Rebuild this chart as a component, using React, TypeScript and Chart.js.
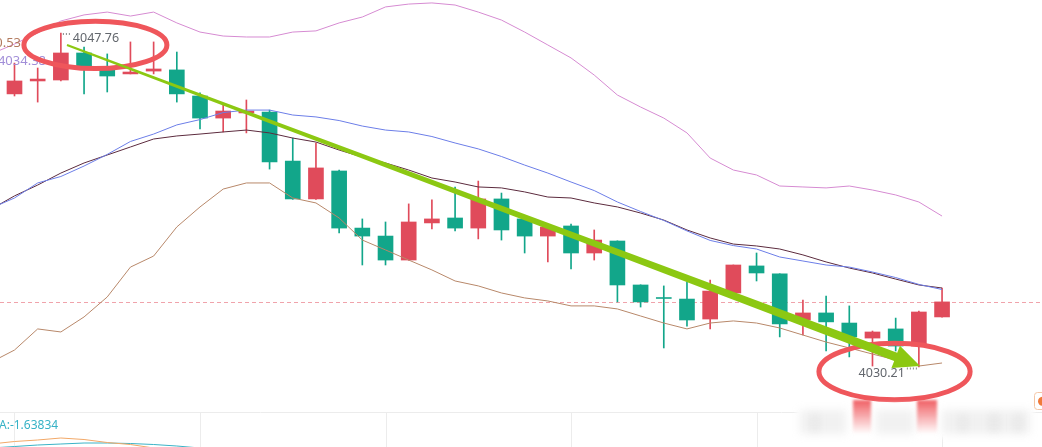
import React, { useEffect, useRef } from "react";
import { Chart, registerables } from "chart.js";

Chart.register(...registerables);

const W = 1042;
const H = 447;
const MAIN_H = 412;

// ---- candles (index 0..40) ----
const OPEN = [4044.56, 4045.24, 4045.29, 4046.71, 4045.82, 4045.61, 4045.76, 4045.82, 4044.45, 4043.29, 4043.56, 4043.61, 4041.03, 4039.04, 4040.51, 4037.51, 4037.09, 4035.83, 4037.78, 4038.04, 4037.51, 4039.04, 4037.99, 4037.09, 4037.62, 4036.2, 4036.83, 4034.52, 4033.86, 4033.78, 4032.73, 4034.1, 4035.52, 4035.1, 4032.68, 4033.05, 4032.52, 4031.73, 4032.21, 4031.31, 4032.84];
const HIGH = [4046.18, 4045.92, 4047.76, 4047.02, 4046.66, 4047.29, 4047.29, 4046.76, 4044.61, 4043.98, 4044.24, 4043.71, 4042.24, 4041.98, 4040.56, 4037.99, 4037.83, 4038.78, 4038.99, 4039.67, 4039.98, 4039.35, 4038.0, 4037.57, 4037.72, 4037.41, 4036.84, 4034.53, 4034.47, 4034.68, 4034.78, 4035.57, 4036.2, 4035.11, 4033.73, 4033.94, 4033.42, 4032.1, 4032.78, 4033.15, 4034.36];
const LOW = [4044.45, 4044.13, 4045.24, 4044.56, 4044.66, 4045.61, 4045.61, 4044.13, 4042.72, 4042.56, 4042.51, 4040.61, 4039.02, 4039.02, 4037.25, 4035.57, 4035.57, 4035.82, 4037.46, 4037.36, 4036.94, 4036.88, 4036.2, 4035.73, 4035.36, 4035.83, 4033.63, 4033.36, 4031.21, 4032.36, 4032.21, 4034.09, 4034.73, 4031.79, 4031.89, 4031.05, 4030.74, 4030.26, 4031.05, 4030.21, 4032.83];
const CLOSE = [4045.24, 4045.34, 4046.71, 4045.87, 4045.5, 4045.71, 4045.87, 4044.56, 4043.29, 4043.66, 4043.66, 4040.98, 4039.04, 4040.67, 4037.51, 4037.09, 4035.83, 4037.83, 4037.99, 4037.51, 4039.04, 4037.41, 4037.09, 4037.57, 4036.2, 4036.88, 4034.52, 4033.63, 4033.81, 4032.68, 4034.2, 4035.57, 4035.15, 4032.47, 4033.05, 4032.58, 4031.79, 4032.05, 4031.31, 4033.1, 4033.63];

// ---- indicator lines (index -1..40) ----
const LINE_START = -1;
const BOLL_UPPER = [4046.66, 4047.18, 4047.76, 4048.39, 4048.71, 4048.86, 4048.65, 4048.86, 4048.29, 4047.81, 4047.6, 4047.55, 4047.55, 4047.81, 4047.87, 4048.29, 4048.6, 4049.13, 4049.28, 4049.34, 4049.23, 4048.86, 4048.44, 4047.81, 4047.13, 4046.45, 4045.55, 4044.5, 4043.87, 4043.29, 4042.51, 4041.19, 4040.56, 4040.3, 4039.72, 4039.67, 4039.62, 4039.72, 4039.51, 4039.25, 4038.88, 4038.14];
const BOLL_MID = [4038.56, 4039.09, 4039.88, 4040.22, 4040.77, 4041.38, 4042.06, 4042.45, 4042.93, 4043.21, 4043.58, 4043.71, 4043.71, 4043.45, 4043.35, 4043.16, 4042.87, 4042.66, 4042.56, 4042.32, 4041.98, 4041.67, 4041.27, 4040.82, 4040.4, 4039.93, 4039.48, 4038.88, 4038.38, 4037.91, 4037.36, 4036.86, 4036.59, 4036.41, 4035.99, 4035.78, 4035.57, 4035.46, 4035.2, 4034.91, 4034.55, 4034.28];
const BOLL_LOWER = [4030.47, 4031.1, 4032.21, 4032.05, 4032.84, 4033.89, 4035.46, 4036.04, 4037.57, 4038.62, 4039.56, 4039.88, 4039.88, 4039.09, 4038.83, 4038.04, 4036.88, 4036.36, 4035.83, 4035.31, 4034.73, 4034.47, 4034.1, 4033.84, 4033.68, 4033.42, 4033.42, 4033.26, 4032.89, 4032.52, 4032.21, 4032.52, 4032.63, 4032.52, 4032.26, 4031.89, 4031.52, 4031.21, 4030.89, 4030.58, 4030.26, 4030.42];
const MA_LINE = [4038.51, 4039.2, 4039.77, 4040.4, 4040.93, 4041.35, 4041.77, 4042.19, 4042.35, 4042.45, 4042.56, 4042.66, 4042.51, 4042.24, 4042.03, 4041.61, 4041.24, 4040.93, 4040.56, 4040.14, 4039.93, 4039.67, 4039.62, 4039.41, 4039.14, 4039.09, 4038.83, 4038.62, 4038.3, 4037.93, 4037.41, 4036.99, 4036.67, 4036.57, 4036.41, 4036.1, 4035.73, 4035.41, 4035.15, 4034.83, 4034.52, 4034.36];

// ---- lower pane (index -1..) ----
const MACD_DIF = [-2.1, -1.975, -1.9, -1.8, -1.875, -2.025, -2.125, -2.3, -2.5, -2.7];
const MACD_DEA = [-2.3, -2.225, -2.15, -2.1, -2.05, -2.05, -2.075, -2.125, -2.2, -2.3, -2.45, -2.6];
const GRID_INDICES = [0, 8, 16, 24, 32, 40];

// ---- texts ----
const LEGEND_TEXTS = ["0.53", ":4034.38"];
const MACD_LABEL = "A:-1.63834";

// ---- annotations (data coordinates) ----
const ARROW_FROM = [2.264, 4047.13];
const ARROW_TO = [39.05, 4030.26];
const ELLIPSES = [
  { cx: 3.489, cy: 4047.135, rx: 71.5, ry: 23.7 },
  { cx: 37.95, cy: 4029.97, rx: 75.6, ry: 28.2 },
];

// ---- scale ranges ----
const X_MIN = -0.625;
const X_MAX = 44.31;
const Y_MIN = 4027.845;
const Y_MAX = 4049.494;

// ---- styles ----
const UP = "#e04b5b";
const DOWN = "#12a68a";
const C_UPPER = "#d68bd2";
const C_MID = "#6c7ee8";
const C_MA = "#5c2b3e";
const C_LOWER = "#b8886a";
const C_PRICE = "#f0a3ab";
const C_RING = "#ef565b";
const C_ARROW = "#8cc812";
const C_TEXT = "#63676d";
const LEGEND_COLORS = ["#b27a5e", "#a18ed8"];
const FONT = "'Noto Sans', 'DejaVu Sans', sans-serif";

const pts = (arr: number[], start: number) => arr.map((v, i) => ({ x: i + start, y: v }));
const candleColor = (c: any) => {
  const i = c.dataIndex;
  return CLOSE[i] >= OPEN[i] ? UP : DOWN;
};

function drawArrow(ctx: CanvasRenderingContext2D, x0: number, y0: number, x1: number, y1: number) {
  const dx = x1 - x0;
  const dy = y1 - y0;
  const len = Math.hypot(dx, dy);
  const ux = dx / len;
  const uy = dy / len;
  const nx = -uy;
  const ny = ux;
  const headL = 26;
  const headW = 12;
  const w0 = 1.0;
  const w1 = 4.3;
  const bx = x1 - ux * headL;
  const by = y1 - uy * headL;
  ctx.save();
  ctx.fillStyle = C_ARROW;
  ctx.beginPath();
  ctx.moveTo(x0 + nx * w0, y0 + ny * w0);
  ctx.lineTo(bx + nx * w1, by + ny * w1);
  ctx.lineTo(bx + nx * headW, by + ny * headW);
  ctx.lineTo(x1, y1);
  ctx.lineTo(bx - nx * headW, by - ny * headW);
  ctx.lineTo(bx - nx * w1, by - ny * w1);
  ctx.lineTo(x0 - nx * w0, y0 - ny * w0);
  ctx.closePath();
  ctx.fill();
  ctx.restore();
}

function drawWatermark(ctx: CanvasRenderingContext2D) {
  ctx.save();
  ctx.filter = "blur(2px)";
  ctx.fillStyle = "#ffffff";
  ctx.fillRect(796, 404, 238, 34);
  ctx.filter = "blur(4px)";
  ctx.fillStyle = "rgba(185,185,185,0.2)";
  ctx.fillRect(800, 410, 46, 24);
  ctx.fillRect(876, 410, 38, 24);
  ctx.fillRect(942, 410, 88, 24);
  ctx.fillStyle = "rgba(170,170,170,0.16)";
  ctx.fillRect(812, 414, 6, 18);
  ctx.fillRect(960, 414, 6, 18);
  ctx.fillRect(990, 414, 8, 18);
  ctx.fillRect(1015, 414, 6, 18);
  ctx.filter = "blur(1.5px)";
  const g = ctx.createLinearGradient(0, 400, 0, 434);
  g.addColorStop(0, "rgba(239,86,91,0.95)");
  g.addColorStop(1, "rgba(239,86,91,0)");
  ctx.fillStyle = g;
  ctx.fillRect(853, 400, 18, 34);
  ctx.fillRect(917, 400, 20, 34);
  ctx.restore();
  // small icon at the right edge
  ctx.save();
  ctx.fillStyle = "#ffffff";
  ctx.strokeStyle = "#f4c6a6";
  ctx.lineWidth = 1;
  ctx.beginPath();
  (ctx as any).roundRect(1034.5, 392.5, 16, 17, 3);
  ctx.fill();
  ctx.stroke();
  ctx.fillStyle = "#f07a3a";
  ctx.beginPath();
  ctx.arc(1042.5, 401.3, 4.5, 0, Math.PI * 2);
  ctx.fill();
  ctx.restore();
}

const mainDecor = {
  id: "mainDecor",
  beforeDatasetsDraw(chart: any) {
    const { ctx, scales } = chart;
    const py = Math.round(scales.y.getPixelForValue(CLOSE[CLOSE.length - 1])) + 0.5;
    ctx.save();
    ctx.strokeStyle = C_PRICE;
    ctx.lineWidth = 1;
    ctx.setLineDash([4, 3]);
    ctx.beginPath();
    ctx.moveTo(0, py);
    ctx.lineTo(chart.width, py);
    ctx.stroke();
    ctx.restore();
  },
  afterDraw(chart: any) {
    const { ctx, scales } = chart;
    const xs = scales.x;
    const ys = scales.y;
    ctx.save();
    // cut-off legend values at the left
    ctx.font = `13px ${FONT}`;
    ctx.textAlign = "right";
    ctx.textBaseline = "alphabetic";
    ctx.fillStyle = LEGEND_COLORS[0];
    ctx.fillText(LEGEND_TEXTS[0], 21, 47);
    ctx.fillStyle = LEGEND_COLORS[1];
    ctx.fillText(LEGEND_TEXTS[1], 46, 65);

    // high / low labels
    let hi = 0;
    let lo = 0;
    HIGH.forEach((v, i) => { if (v > HIGH[hi]) hi = i; });
    LOW.forEach((v, i) => { if (v < LOW[lo]) lo = i; });
    const hx = xs.getPixelForValue(hi);
    const hy = ys.getPixelForValue(HIGH[hi]);
    const lx = xs.getPixelForValue(lo);
    const ly = ys.getPixelForValue(LOW[lo]);
    ctx.font = `12.5px ${FONT}`;
    ctx.fillStyle = C_TEXT;
    ctx.textAlign = "left";
    ctx.fillText(HIGH[hi].toFixed(2), hx + 12, hy + 9.5);
    ctx.textAlign = "right";
    ctx.fillText(LOW[lo].toFixed(2), lx - 14, ly + 10.5);
    ctx.strokeStyle = "#8a8a8a";
    ctx.lineWidth = 2;
    ctx.setLineDash([1, 2]);
    ctx.beginPath();
    ctx.moveTo(hx + 2, hy + 1);
    ctx.lineTo(hx + 10, hy + 1);
    ctx.moveTo(lx - 12, ly + 1.5);
    ctx.lineTo(lx - 2, ly + 1.5);
    ctx.stroke();
    ctx.setLineDash([]);

    // red rings
    ctx.strokeStyle = C_RING;
    ctx.lineWidth = 5;
    ELLIPSES.forEach((e) => {
      ctx.beginPath();
      ctx.ellipse(xs.getPixelForValue(e.cx), ys.getPixelForValue(e.cy), e.rx, e.ry, 0, 0, Math.PI * 2);
      ctx.stroke();
    });
    ctx.restore();

    // green arrow
    drawArrow(
      ctx,
      xs.getPixelForValue(ARROW_FROM[0]),
      ys.getPixelForValue(ARROW_FROM[1]),
      xs.getPixelForValue(ARROW_TO[0]),
      ys.getPixelForValue(ARROW_TO[1])
    );

    drawWatermark(ctx);
  },
};

const subDecor = {
  id: "subDecor",
  beforeDatasetsDraw(chart: any) {
    const { ctx, scales } = chart;
    ctx.save();
    ctx.strokeStyle = "#ececec";
    ctx.lineWidth = 1;
    ctx.beginPath();
    ctx.moveTo(0, 0.5);
    ctx.lineTo(chart.width, 0.5);
    GRID_INDICES.forEach((i) => {
      const px = Math.round(scales.x.getPixelForValue(i)) + 0.5;
      ctx.moveTo(px, 0);
      ctx.lineTo(px, chart.height);
    });
    ctx.stroke();
    ctx.restore();
  },
  afterDraw(chart: any) {
    const { ctx } = chart;
    ctx.save();
    ctx.font = `12px ${FONT}`;
    ctx.fillStyle = "#36b2c6";
    ctx.textAlign = "left";
    ctx.textBaseline = "alphabetic";
    ctx.fillText(MACD_LABEL, -1, 16.5);
    ctx.restore();
  },
};

export default function App() {
  const mainRef = useRef<HTMLCanvasElement>(null);
  const subRef = useRef<HTMLCanvasElement>(null);

  useEffect(() => {
    const lineDs = (label: string, data: number[], color: string) => ({
      type: "line" as const,
      label,
      data: pts(data, LINE_START),
      borderColor: color,
      borderWidth: 1,
      pointRadius: 0,
      tension: 0,
      fill: false,
      order: 0,
    });

    const main = new Chart(mainRef.current as HTMLCanvasElement, {
      type: "bar",
      data: {
        datasets: [
          lineDs("UP", BOLL_UPPER, C_UPPER),
          lineDs("MID", BOLL_MID, C_MID),
          lineDs("MA", MA_LINE, C_MA),
          lineDs("DN", BOLL_LOWER, C_LOWER),
          {
            type: "bar",
            label: "body",
            data: OPEN.map((o, i) => ({ x: i, y: [o, CLOSE[i]] })) as any,
            backgroundColor: candleColor,
            barThickness: 15,
            grouped: false,
            borderWidth: 0,
            order: 1,
          } as any,
          {
            type: "bar",
            label: "wick",
            data: LOW.map((l, i) => ({ x: i, y: [l, HIGH[i]] })) as any,
            backgroundColor: candleColor,
            barThickness: 1,
            grouped: false,
            borderWidth: 0,
            order: 2,
          } as any,
        ],
      },
      options: {
        responsive: false,
        animation: false,
        devicePixelRatio: 1,
        events: [],
        layout: { padding: { left: 0, right: 0, top: 0, bottom: H - MAIN_H } },
        plugins: { legend: { display: false }, tooltip: { enabled: false } },
        scales: {
          x: { type: "linear", min: X_MIN, max: X_MAX, display: false, offset: false, grid: { offset: false } },
          y: { type: "linear", min: Y_MIN, max: Y_MAX, display: false },
        },
      },
      plugins: [mainDecor],
    } as any);

    const sub = new Chart(subRef.current as HTMLCanvasElement, {
      type: "line",
      data: {
        datasets: [
          { label: "DIF", data: pts(MACD_DIF, LINE_START), borderColor: "#f2a867", borderWidth: 1, pointRadius: 0, tension: 0 },
          { label: "DEA", data: pts(MACD_DEA, LINE_START), borderColor: "#3ab3c7", borderWidth: 1, pointRadius: 0, tension: 0 },
        ],
      },
      options: {
        responsive: false,
        animation: false,
        devicePixelRatio: 1,
        events: [],
        layout: { padding: 0 },
        plugins: { legend: { display: false }, tooltip: { enabled: false } },
        scales: {
          x: { type: "linear", min: X_MIN, max: X_MAX, display: false },
          y: { type: "linear", min: -2.25, max: -0.5, display: false },
        },
      },
      plugins: [subDecor],
    } as any);

    return () => {
      main.destroy();
      sub.destroy();
    };
  }, []);

  return (
    <div style={{ position: "fixed", left: 0, top: 0, width: W, height: H, background: "#ffffff", overflow: "hidden" }}>
      <canvas
        ref={subRef}
        width={W}
        height={H - MAIN_H}
        style={{ position: "absolute", left: 0, top: MAIN_H, width: W, height: H - MAIN_H }}
      />
      <canvas
        ref={mainRef}
        width={W}
        height={H}
        style={{ position: "absolute", left: 0, top: 0, width: W, height: H }}
      />
    </div>
  );
}
